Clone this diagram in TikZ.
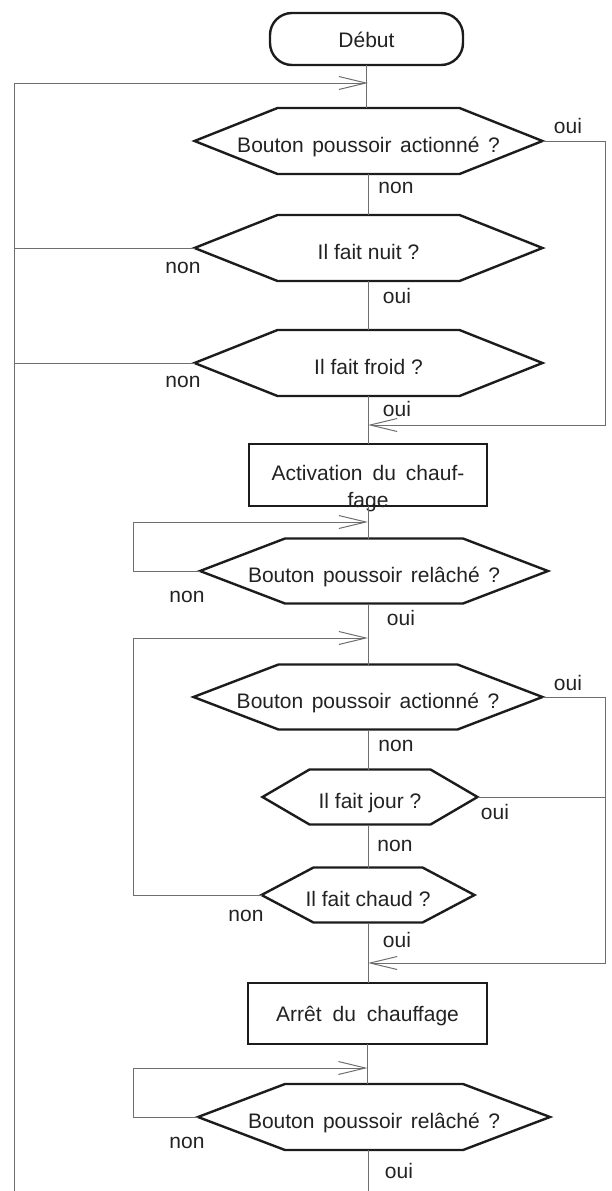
\documentclass[tikz,border=0pt]{standalone}
\usepackage{fontspec}
\setmainfont{Liberation Sans}
\usetikzlibrary{arrows.meta}
\definecolor{linegray}{RGB}{110,110,110}
\definecolor{shapeblack}{RGB}{28,28,28}
\definecolor{textcol}{RGB}{34,34,34}
\newcommand\lab{\fontsize{21}{27}\selectfont}
\newcommand\hexdraw[2]{\draw[shp] (#1.west) -- ([xshift=#2]#1.north west) -- ([xshift=-#2]#1.north east) -- (#1.east) -- ([xshift=-#2]#1.south east) -- ([xshift=#2]#1.south west) -- cycle;}
\tikzset{
  ln/.style={draw=linegray, line width=1pt},
  arr/.style={ln, -{Straight Barb[length=27pt,width=13pt,line width=1pt]}},
  shp/.style={draw=shapeblack, line width=2.4pt, line join=miter},
  hexbox/.style={inner sep=0pt, outer sep=0pt, text height=22pt, text depth=0pt, font=\lab, text=textcol},
  boxnode/.style={shp, inner sep=0pt, outer sep=0pt, text height=15pt, text depth=0pt, font=\lab, text=textcol},
  yn/.style={anchor=base, inner sep=0pt, font=\lab, text=textcol},
}
\begin{document}
\begin{tikzpicture}[x=1pt,y=-1pt]
\useasboundingbox (0,0) rectangle (612,1191);
% nodes
\node[boxnode, text height=17pt, rounded corners=22pt, minimum width=193pt, minimum height=52pt] (debut) at (366.5,39) {Début};
\node[hexbox, minimum width=348pt, minimum height=66pt, font={\lab\spaceskip=8.5pt}] (d1) at (368.5,141) {Bouton poussoir actionné ?};
\node[hexbox, minimum width=348pt, minimum height=66pt] (d2) at (368.5,248) {Il fait nuit ?};
\node[hexbox, minimum width=348pt, minimum height=66pt] (d3) at (368.5,363) {Il fait froid ?};
\node[boxnode, minimum width=238pt, minimum height=62pt] (act) at (368,475) {};
\node[anchor=north, inner sep=0pt, align=center, font={\lab\spaceskip=10pt}, text=textcol] (acttxt) at (368,465) {Activation du chauf-\\fage};
\node[hexbox, minimum width=348pt, minimum height=65pt, font={\lab\spaceskip=8.5pt}] (d4) at (374,571) {Bouton poussoir relâché ?};
\node[hexbox, minimum width=349pt, minimum height=65pt, font={\lab\spaceskip=8.5pt}] (d5) at (368,697) {Bouton poussoir actionné ?};
\node[hexbox, minimum width=215pt, minimum height=55pt] (d6) at (370,797) {Il fait jour ?};
\node[hexbox, minimum width=213pt, minimum height=55pt] (d7) at (368,895) {Il fait chaud ?};
\node[boxnode, minimum width=239pt, minimum height=61pt, font={\lab\spaceskip=11pt}] (arret) at (367.5,1013.5) {Arrêt du chauffage};
\node[hexbox, minimum width=352pt, minimum height=66pt, font={\lab\spaceskip=8.5pt}] (d8) at (374,1117) {Bouton poussoir relâché ?};
% hexagon outlines
\hexdraw{d1}{83pt}
\hexdraw{d2}{83pt}
\hexdraw{d3}{83pt}
\hexdraw{d4}{85pt}
\hexdraw{d5}{85pt}
\hexdraw{d6}{47pt}
\hexdraw{d7}{52pt}
\hexdraw{d8}{87pt}
% coordinates for free ends / corners
\coordinate (a1) at (368,83);
\coordinate (lb) at (14,1191);
\coordinate (r1) at (605,425);
\coordinate (c4) at (133,522);
\coordinate (c7) at (133,638);
\coordinate (r2) at (605,963);
\coordinate (c8) at (133,1068);
\coordinate (bot) at (368,1191);
% main line
\draw[ln] (debut.south) -- (debut.south |- d1.north);
\draw[ln] (d1.south) -- (d2.north);
\draw[ln] (d2.south) -- (d3.north);
\draw[ln] (d3.south -| act.north) -- (act.north);
\draw[ln] (act.south) -- (act.south |- d4.north);
\draw[ln] (d4.south -| d5.north) -- (d5.north);
\draw[ln] (d5.south) -- (d5.south |- d6.north);
\draw[ln] (d6.south -| d7.north) -- (d7.north);
\draw[ln] (d7.south) -- (d7.south |- arret.north);
\draw[ln] (arret.south) -- (arret.south |- d8.north);
\draw[ln] (d8.south -| bot) -- (bot);
% loops and branches
\draw[arr] (lb) |- (a1);
\draw[ln] (d2.west) -- (d2.west -| lb);
\draw[ln] (d3.west) -- (d3.west -| lb);
\draw[arr] (d1.east) -| (r1) -- (r1 -| act.north);
\draw[arr] (d4.west) -| (c4) -- (c4 -| act.south);
\draw[arr] (d7.west) -| (c7) -- (c7 -| d5.north);
\draw[arr] (d5.east) -| (r2) -- (r2 -| d7.south);
\draw[ln] (d6.east) -- (d6.east -| r2);
\draw[arr] (d8.west) -| (c8) -- (c8 -| arret.south);
% yes / no labels
\node[yn] (y1) at (568,133.5) {oui};
\node[yn] (n1) at (396,193.5) {non};
\node[yn] (n2) at (183,273.5) {non};
\node[yn] (y2) at (397,303.5) {oui};
\node[yn] (n3) at (183,387.5) {non};
\node[yn] (y3) at (397,416.5) {oui};
\node[yn] (n4) at (187,602.5) {non};
\node[yn] (y4) at (401,625.5) {oui};
\node[yn] (y5) at (568,690.5) {oui};
\node[yn] (n5) at (396,751.5) {non};
\node[yn] (y6) at (495,819.5) {oui};
\node[yn] (n6) at (395,851.5) {non};
\node[yn] (n7) at (246,921.5) {non};
\node[yn] (y7) at (397,947.5) {oui};
\node[yn] (n8) at (187,1148.5) {non};
\node[yn] (y8) at (399,1178.5) {oui};
\end{tikzpicture}
\end{document}
